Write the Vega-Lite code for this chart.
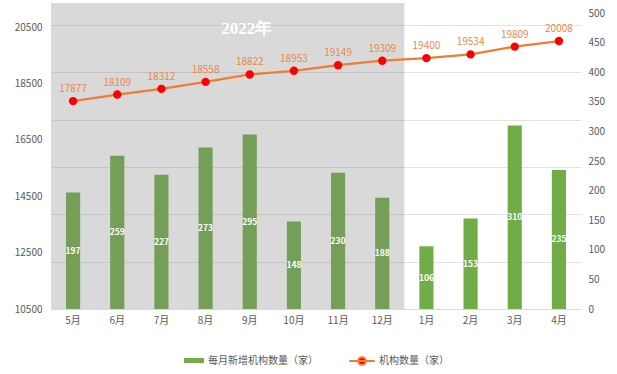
{
  "$schema": "https://vega.github.io/schema/vega-lite/v6.json",
  "width": 530,
  "height": 306,
  "autosize": {"type": "none"},
  "padding": {"left": 51, "top": 3, "right": 36, "bottom": 65},
  "background": "#ffffff",
  "config": {
    "font": "Noto Sans CJK SC",
    "view": {"stroke": null},
    "legend": {"orient": "bottom", "direction": "horizontal", "labelColor": "#595959", "labelFontSize": 10, "offset": 22,
      "layout": {"bottom": {"anchor": "middle", "direction": "horizontal", "center": true, "margin": 30}}}
  },
  "data": {
    "values": [
      {"month": "5月", "year": 2022, "added": 197, "total": 17877},
      {"month": "6月", "year": 2022, "added": 259, "total": 18109},
      {"month": "7月", "year": 2022, "added": 227, "total": 18312},
      {"month": "8月", "year": 2022, "added": 273, "total": 18558},
      {"month": "9月", "year": 2022, "added": 295, "total": 18822},
      {"month": "10月", "year": 2022, "added": 148, "total": 18953},
      {"month": "11月", "year": 2022, "added": 230, "total": 19149},
      {"month": "12月", "year": 2022, "added": 188, "total": 19309},
      {"month": "1月", "year": 2023, "added": 106, "total": 19400},
      {"month": "2月", "year": 2023, "added": 153, "total": 19534},
      {"month": "3月", "year": 2023, "added": 310, "total": 19809},
      {"month": "4月", "year": 2023, "added": 235, "total": 20008}
    ]
  },
  "encoding": {
    "x": {
      "field": "month", "type": "nominal", "sort": null,
      "scale": {"paddingInner": 0, "paddingOuter": 0},
      "axis": {"title": null, "labelAngle": 0, "ticks": false, "grid": false, "domainColor": "#d9d9d9", "labelColor": "#595959", "labelFontSize": 10, "labelPadding": 6}
    }
  },
  "layer": [
    {
      "layer": [
        {
          "mark": {"type": "bar", "width": {"band": 0.32}},
          "encoding": {
            "y": {
              "field": "added", "type": "quantitative",
              "scale": {"domain": [0, 517], "nice": false},
              "axis": {
                "orient": "right", "title": null, "values": [0,10,20,30,40,50,60,70,80,90,100,110,120,130,140,150,160,170,180,190,200,210,220,230,240,250,260,270,280,290,300,310,320,330,340,350,360,370,380,390,400,410,420,430,440,450,460,470,480,490,500],
                "labels": false, "ticks": false, "domain": false, "minExtent": 0, "maxExtent": 0,
                "gridColor": "#e3e3e3", "gridWidth": 1
              }
            },
            "fill": {
              "datum": "每月新增机构数量（家）", "type": "nominal",
              "scale": {"range": ["#70AD47"]},
              "legend": {"title": null, "symbolType": "M-1,-0.25H1V0.25H-1Z", "symbolSize": 400, "symbolStrokeWidth": 0, "labelOffset": 4}
            }
          }
        },
        {
          "transform": [{"filter": "datum.year === 2022"}],
          "mark": {"type": "bar", "width": {"band": 1}, "color": "#808080", "opacity": 0.3},
          "encoding": {"y": {"datum": 517, "type": "quantitative"}}
        }
      ]
    },
    {
      "mark": {"type": "text", "color": "#ffffff", "fontWeight": "bold", "fontSize": 8.5, "baseline": "middle"},
      "encoding": {
        "y": {"field": "added", "type": "quantitative", "scale": {"domain": [0, 1034], "nice": false}, "axis": null},
        "text": {"field": "added", "type": "quantitative"}
      }
    },
    {
      "layer": [
        {
          "mark": {"type": "line", "strokeWidth": 2.25},
          "encoding": {
            "y": {
              "field": "total", "type": "quantitative",
              "scale": {"domain": [10500, 21357], "nice": false, "zero": false},
              "axis": {
                "orient": "left", "title": null, "values": [10500, 12500, 14500, 16500, 18500, 20500], "format": "d",
                "ticks": false, "domain": false, "gridColor": "#cfcfcf", "gridWidth": 1.2,
                "labelColor": "#595959", "labelFontSize": 10, "labelPadding": 9
              }
            },
            "stroke": {
              "datum": "机构数量（家）", "type": "nominal",
              "scale": {"range": ["#ED7D31"]},
              "legend": {"title": null, "symbolType": "M-1,0H-0.3A0.3,0.3 0 1,1 0.3,0H1M0.3,0A0.3,0.3 0 1,1 -0.3,0Z", "symbolSize": 650, "symbolFillColor": "#FF0000", "symbolStrokeWidth": 2, "labelOffset": 3}
            }
          }
        },
        {
          "mark": {"type": "point", "filled": true, "color": "#FF0000", "size": 70, "opacity": 1},
          "encoding": {"y": {"field": "total", "type": "quantitative"}}
        },
        {
          "mark": {"type": "text", "color": "#E8894A", "fontSize": 10, "dy": -12, "baseline": "middle"},
          "encoding": {
            "y": {"field": "total", "type": "quantitative"},
            "text": {"field": "total", "type": "quantitative", "format": "d"}
          }
        }
      ]
    },
    {
      "transform": [{"filter": "datum.month === '9月'"}],
      "mark": {"type": "text", "color": "#ffffff", "fontWeight": "bold", "fontSize": 17, "font": "Liberation Serif", "baseline": "middle", "dx": -3},
      "encoding": {
        "y": {
          "datum": 473, "type": "quantitative", "scale": {"domain": [0, 517], "nice": false},
          "axis": {
            "orient": "right", "title": null, "values": [0, 50, 100, 150, 200, 250, 300, 350, 400, 450, 500],
            "grid": false, "ticks": false, "domain": false, "offset": 0,
            "labelColor": "#595959", "labelFontSize": 10, "labelPadding": 7
          }
        },
        "text": {"value": "2022年"}
      }
    }
  ],
  "resolve": {"scale": {"y": "independent"}}
}
